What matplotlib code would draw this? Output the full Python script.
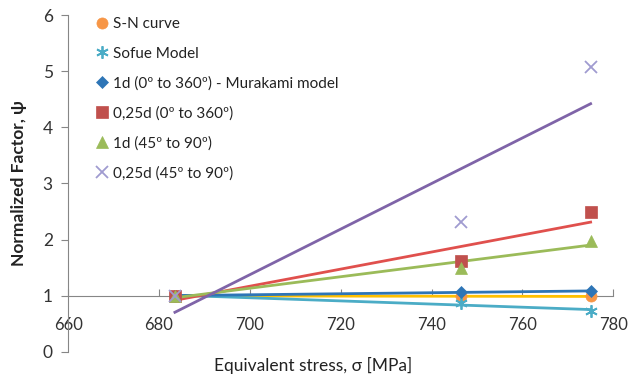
import matplotlib.pyplot as plt
import numpy as np

plt.rcParams['font.family'] = ['Lato', 'DejaVu Sans']

# data
stress = [683.5, 746.5, 775.0]
labels = ["S-N curve", "Sofue Model", "1d (0º to 360º) - Murakami model",
          "0,25d (0º to 360º)", "1d (45º to 90º)", "0,25d (45º to 90º)"]
sn_curve = [1.0, 0.99, 0.99]
sofue = [1.0, 0.87, 0.73]
murakami_1d = [1.0, 1.07, 1.08]
d025_full = [1.0, 1.62, 2.49]
d1_45_90 = [1.0, 1.5, 1.98]
d025_45_90 = [1.0, 2.32, 5.07]

series = [sn_curve, sofue, murakami_1d, d025_full, d1_45_90, d025_45_90]
markers = ['o', (6, 2, 0), 'D', 's', '^', 'x']
msizes = [8, 9, 6, 8, 8, 9]
mcolors = ['#F79646', '#4BACC6', '#2E75B6', '#C0504D', '#9BBB59', '#A09BD0']
tcolors = ['#FFC000', '#4BACC6', '#2E75B6', '#E0504D', '#9BBB59', '#7F64A8']

fig = plt.figure(figsize=(6.31, 3.76), dpi=100)
ax = fig.add_axes([0.108, 0.064, 0.864, 0.896])

x = np.array(stress)
# linear trendlines (excel-style)
for vals, tc in zip(series, tcolors):
    k, b = np.polyfit(x, vals, 1)
    ax.plot([x[0], x[-1]], [k * x[0] + b, k * x[-1] + b], color=tc, lw=2, zorder=2)

for vals, lab, m, ms, mc in zip(series, labels, markers, msizes, mcolors):
    lw = 1.3 if m in ('x', (6, 2, 0)) else 0.5
    ax.plot(x, vals, linestyle='none', marker=m, markersize=ms, color=mc,
            markeredgewidth=lw, label=lab, zorder=3)

ax.set_xlim(660, 780)
ax.set_ylim(0, 6)
ax.set_xticks(range(660, 781, 20))
ax.set_yticks(range(0, 7))

gray = '#868686'
for s in ['top', 'right']:
    ax.spines[s].set_visible(False)
ax.spines['bottom'].set_position(('data', 1))
ax.spines['bottom'].set_color(gray)
ax.spines['left'].set_color(gray)
ax.spines['bottom'].set_zorder(1)
ax.tick_params(axis='x', direction='in', length=5, color=gray, pad=15,
               labelsize=12, labelcolor='#333333')
ax.tick_params(axis='y', direction='out', length=5, color=gray, pad=6,
               labelsize=12.5, labelcolor='#333333')

ax.set_xlabel("Equivalent stress, σ [MPa]", fontsize=12.5, color='#222222',
              va='center')
ax.xaxis.set_label_coords(0.45, -0.04)
ax.set_ylabel("Normalized Factor, ψ", fontsize=12.5, color='#222222', fontweight='bold')
ax.yaxis.set_label_coords(-0.075, 0.5)

leg = ax.legend(loc='upper left', bbox_to_anchor=(0.02, 1.035), frameon=False,
                fontsize=11, handletextpad=0.1, labelspacing=1.02, handlelength=1.2)
for t in leg.get_texts():
    t.set_color('#222222')

fig.savefig('out.png', dpi=100)
